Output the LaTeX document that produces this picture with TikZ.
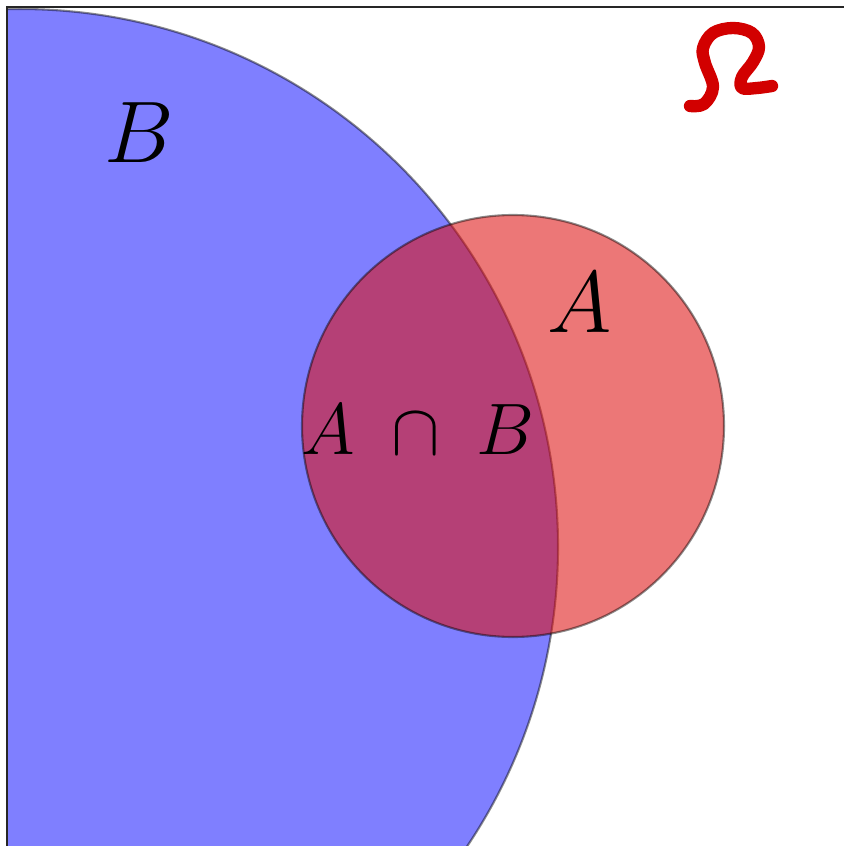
\documentclass[tikz,border=0pt]{standalone}
\usepackage{tikz}
\usetikzlibrary{calc}
\definecolor{setblue}{RGB}{0,0,255}
\definecolor{setred}{RGB}{222,20,20}
\definecolor{omegared}{RGB}{210,0,0}

\begin{document}
\begin{tikzpicture}[
    x=0.01cm, y=-0.01cm,
    setB/.style={fill=setblue, fill opacity=0.5, draw=black,
        draw opacity=0.45, line width=0.6pt},
    setA/.style={fill=setred, fill opacity=0.58, draw=black,
        draw opacity=0.45, line width=0.6pt},
    frame/.style={draw=black!85, line width=0.6pt},
    biglabel/.style={inner sep=0pt, font=\fontsize{34}{40}\selectfont},
    midlabel/.style={inner sep=0pt, font=\fontsize{19.5}{24}\selectfont},
    omegastroke/.style={draw=omegared, line width=3.5pt,
        line cap=round, line join=round},
]
\useasboundingbox (0,0) rectangle (844,846);

% the two sets
\begin{scope}
    \clip (7,7) rectangle (844,846);
    \draw[setB] (20,547) circle [radius=538];
\end{scope}
\draw[setA] (513,426) circle [radius=211];

% sample space border
\draw[frame] (7,846) -- (7,7) -- (844,7);

% labels
\node[biglabel] (labelB) at (139,133) {$B$};
\node[biglabel] (labelA) at (580,303) {$A$};
\node[midlabel] (labelAB) at (418,430) {$A\;\cap\;B$};

% handwritten Omega
\draw[omegastroke] plot[smooth, tension=0.6] coordinates {
    (690,106) (704,104) (713,87) (705,63) (703,48) (713,33)
    (733,28) (752,33) (759,47) (753,62) (742,77) (742,88)
    (757,88) (772,86)};
\end{tikzpicture}
\end{document}
